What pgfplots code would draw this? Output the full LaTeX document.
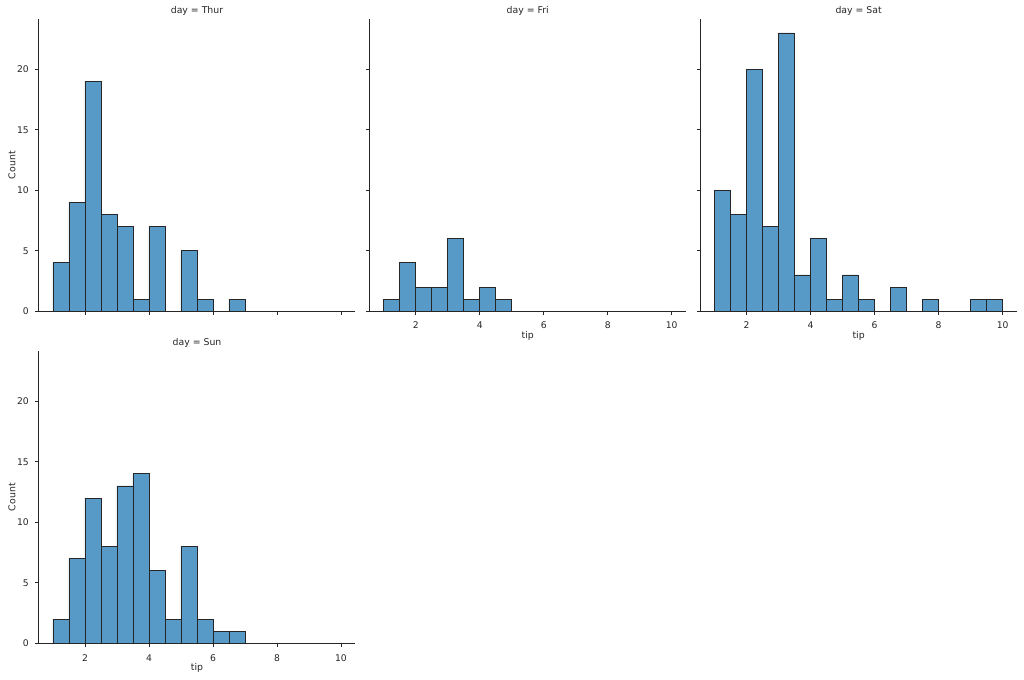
\documentclass[border=0pt]{standalone}
\usepackage{fontspec}
\setmainfont{DejaVu Sans}
\usepackage{pgfplots}
\pgfplotsset{compat=1.18}
\definecolor{barfill}{RGB}{87,153,199}
\definecolor{baredge}{RGB}{38,38,38}
\definecolor{axcol}{RGB}{38,38,38}
\pgfplotsset{
  facet/.style={
    scale only axis,
    width=237.6pt, height=219.15pt,
    anchor=south west,
    xmin=0.55, xmax=10.45, ymin=0, ymax=24.15,
    axis x line*=bottom, axis y line*=left,
    axis line style={-, axcol, line width=0.75pt},
    xtick={2,4,6,8,10}, ytick={0,5,10,15,20},
    tick align=outside, major tick length=2.6pt,
    tick style={axcol, line width=0.6pt},
    /pgf/number format/assume math mode=true,
    tick label style={font=\fontsize{6.9}{8}\selectfont, text=axcol},
    xticklabel style={anchor=base, inner sep=0pt, yshift=-10.7pt},
    yticklabel style={anchor=east, inner sep=0pt, xshift=-4.6pt},
    every axis title/.style={at={(axis description cs:0.5,1)}, anchor=base, inner sep=0pt, yshift=4.5pt, font=\fontsize{7}{8}\selectfont, text=axcol},
    every axis y label/.style={at={(axis description cs:-0.0737,0.5)}, anchor=base, rotate=90, inner sep=0pt, font=\fontsize{7}{8}\selectfont, text=axcol},
    every axis x label/.style={at={(axis description cs:0.5,-0.0922)}, anchor=base, inner sep=0pt, font=\fontsize{7}{8}\selectfont, text=axcol},
    clip=false,
  },
  hbar/.style={ybar, bar width=0.5, bar shift=0pt, fill=barfill, draw=baredge, line width=0.7pt},
}
\begin{document}
\begin{tikzpicture}
\path[use as bounding box] (0,0) rectangle (768pt,509.25pt);
% Thur
\begin{axis}[facet, at={(28.95pt,275.8pt)}, title={day = Thur}, ylabel={Count}, xticklabels={}]
\addplot[hbar] coordinates {
(1.25,4) (1.75,9) (2.25,19) (2.75,8) (3.25,7) (3.75,1) (4.25,7) (4.75,0) (5.25,5) (5.75,1) (6.25,0) (6.75,1)
(7.25,0) (7.75,0) (8.25,0) (8.75,0) (9.25,0) (9.75,0)};
\end{axis}
% Fri
\begin{axis}[facet, at={(277.0pt,275.8pt)}, title={day = Fri}, xlabel={tip}, yticklabels={}]
\addplot[hbar] coordinates {
(1.25,1) (1.75,4) (2.25,2) (2.75,2) (3.25,6) (3.75,1) (4.25,2) (4.75,1) (5.25,0) (5.75,0) (6.25,0) (6.75,0)
(7.25,0) (7.75,0) (8.25,0) (8.75,0) (9.25,0) (9.75,0)};
\end{axis}
% Sat
\begin{axis}[facet, at={(525.2pt,275.8pt)}, title={day = Sat}, xlabel={tip}, yticklabels={}]
\addplot[hbar] coordinates {
(1.25,10) (1.75,8) (2.25,20) (2.75,7) (3.25,23) (3.75,3) (4.25,6) (4.75,1) (5.25,3) (5.75,1) (6.25,0) (6.75,2)
(7.25,0) (7.75,1) (8.25,0) (8.75,0) (9.25,1) (9.75,1)};
\end{axis}
% Sun
\begin{axis}[facet, at={(28.95pt,26.8pt)}, title={day = Sun}, xlabel={tip}, ylabel={Count}]
\addplot[hbar] coordinates {
(1.25,2) (1.75,7) (2.25,12) (2.75,8) (3.25,13) (3.75,14) (4.25,6) (4.75,2) (5.25,8) (5.75,2) (6.25,1) (6.75,1)
(7.25,0) (7.75,0) (8.25,0) (8.75,0) (9.25,0) (9.75,0)};
\end{axis}
\end{tikzpicture}
\end{document}
